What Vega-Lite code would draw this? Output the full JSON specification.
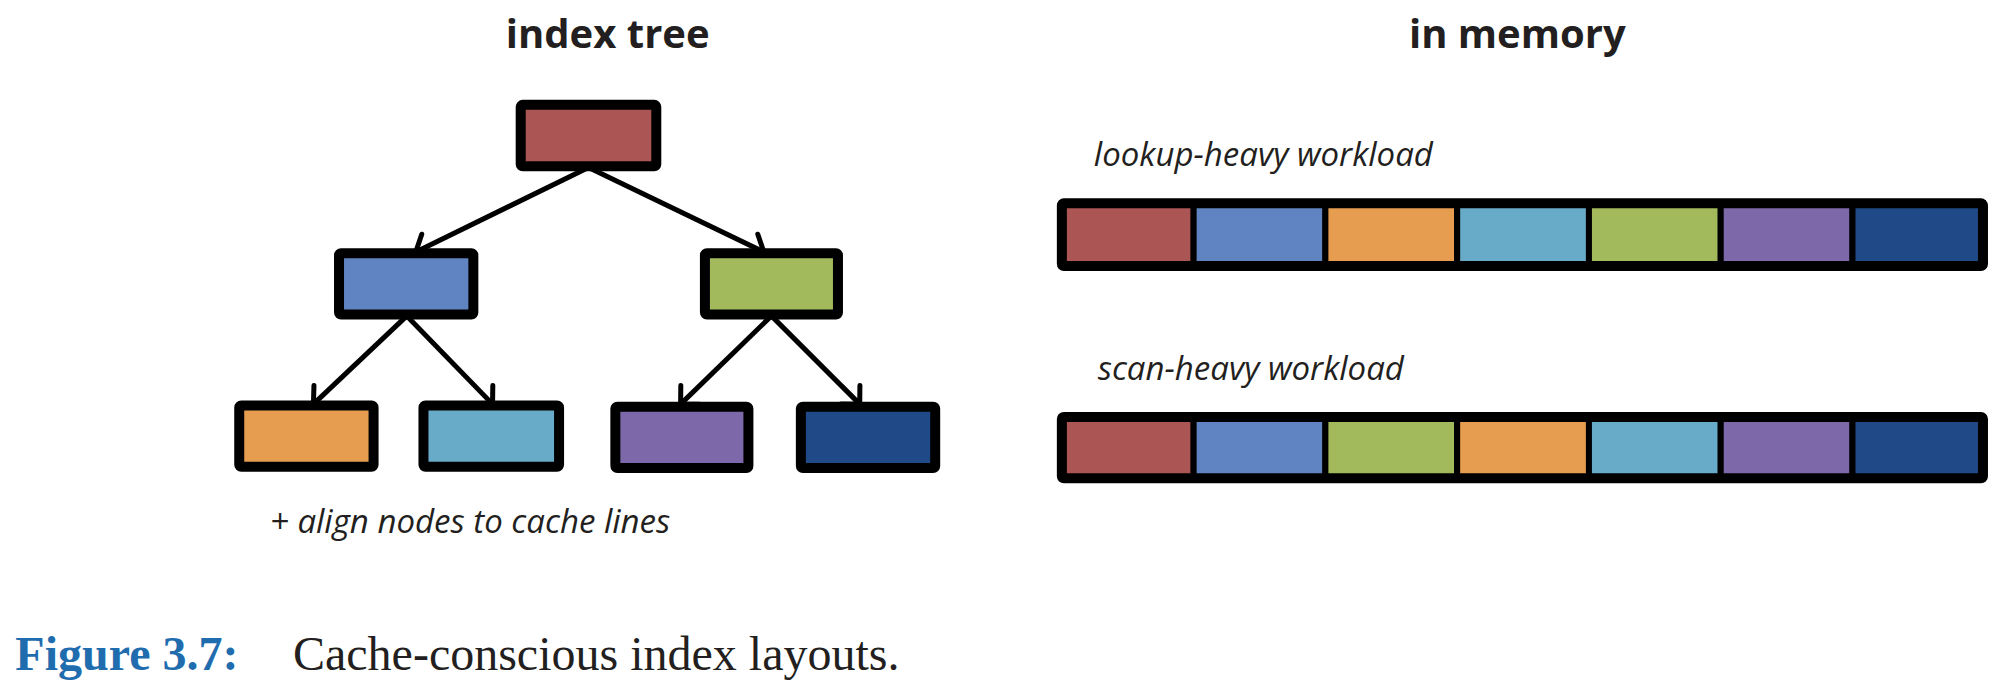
{
  "$schema": "https://vega.github.io/schema/vega-lite/v6.json",
  "width": 2006,
  "height": 697,
  "autosize": {"type": "fit", "contains": "padding"},
  "padding": 0,
  "background": "white",
  "config": {"view": {"stroke": null}},
  "datasets": {
    "tree": [
      {"node": "root", "x1": 407, "x2": 513, "y1": 82, "y2": 130},
      {"node": "L", "x1": 265, "x2": 370, "y1": 198, "y2": 246},
      {"node": "R", "x1": 551, "x2": 655, "y1": 198, "y2": 246},
      {"node": "LL", "x1": 187, "x2": 292, "y1": 317, "y2": 365},
      {"node": "LR", "x1": 331, "x2": 437, "y1": 317, "y2": 365},
      {"node": "RL", "x1": 481, "x2": 585, "y1": 318, "y2": 366},
      {"node": "RR", "x1": 626, "x2": 731, "y1": 318, "y2": 366}
    ],
    "edges": [
      {"x1": 460, "y1": 131, "x2": 325, "y2": 197, "angle": 63.6},
      {"x1": 460, "y1": 131, "x2": 597, "y2": 197, "angle": 296.4},
      {"x1": 318, "y1": 247, "x2": 245, "y2": 316, "angle": 46.6},
      {"x1": 318, "y1": 247, "x2": 385, "y2": 316, "angle": 315.8},
      {"x1": 603, "y1": 247, "x2": 532, "y2": 316, "angle": 45.6},
      {"x1": 603, "y1": 247, "x2": 672, "y2": 316, "angle": 315.6}
    ],
    "cells": [
      {"node": "root", "x1": 830, "x2": 933, "y1": 159, "y2": 208},
      {"node": "L", "x1": 933, "x2": 1036, "y1": 159, "y2": 208},
      {"node": "LL", "x1": 1036, "x2": 1139, "y1": 159, "y2": 208},
      {"node": "LR", "x1": 1139, "x2": 1242, "y1": 159, "y2": 208},
      {"node": "R", "x1": 1242, "x2": 1345, "y1": 159, "y2": 208},
      {"node": "RL", "x1": 1345, "x2": 1448, "y1": 159, "y2": 208},
      {"node": "RR", "x1": 1448, "x2": 1550, "y1": 159, "y2": 208},
      {"node": "root", "x1": 830, "x2": 933, "y1": 326, "y2": 374},
      {"node": "L", "x1": 933, "x2": 1036, "y1": 326, "y2": 374},
      {"node": "R", "x1": 1036, "x2": 1139, "y1": 326, "y2": 374},
      {"node": "LL", "x1": 1139, "x2": 1242, "y1": 326, "y2": 374},
      {"node": "LR", "x1": 1242, "x2": 1345, "y1": 326, "y2": 374},
      {"node": "RL", "x1": 1345, "x2": 1448, "y1": 326, "y2": 374},
      {"node": "RR", "x1": 1448, "x2": 1550, "y1": 326, "y2": 374}
    ],
    "rows": [
      {"x1": 830, "x2": 1550, "y1": 159, "y2": 208},
      {"x1": 830, "x2": 1550, "y1": 326, "y2": 374}
    ]
  },
  "layer": [
    {
      "data": {"name": "edges"},
      "mark": {"type": "rule", "stroke": "black", "strokeWidth": 5},
      "encoding": {
        "x": {"field": "x1", "type": "quantitative", "scale": {"domain": [0, 1568], "nice": false, "zero": false}, "axis": null},
        "y": {"field": "y1", "type": "quantitative", "scale": {"domain": [0, 545], "nice": false, "zero": false, "reverse": true}, "axis": null},
        "x2": {"field": "x2"},
        "y2": {"field": "y2"}
      }
    },
    {
      "data": {"name": "edges"},
      "mark": {"type": "point", "shape": "M -1 -1 L 0 0 L 1 -1", "filled": false, "stroke": "black", "strokeWidth": 5, "size": 700, "opacity": 1, "strokeCap": "round"},
      "encoding": {
        "x": {"field": "x2", "type": "quantitative"},
        "y": {"field": "y2", "type": "quantitative"},
        "angle": {"field": "angle", "type": "quantitative", "scale": null}
      }
    },
    {
      "data": {"name": "tree"},
      "mark": {"type": "rect", "stroke": "black", "strokeWidth": 10, "cornerRadius": 2},
      "encoding": {
        "x": {"field": "x1", "type": "quantitative"},
        "x2": {"field": "x2"},
        "y": {"field": "y1", "type": "quantitative"},
        "y2": {"field": "y2"},
        "color": {"field": "node", "type": "nominal", "legend": null,
          "scale": {"domain": ["root", "L", "LL", "LR", "R", "RL", "RR"],
                    "range": ["#AB5555", "#6083C1", "#E79D4F", "#68ABC9", "#A3BA5C", "#7D69AA", "#1F4A87"]}}
      }
    },
    {
      "data": {"name": "cells"},
      "mark": {"type": "rect", "stroke": "black", "strokeWidth": 6},
      "encoding": {
        "x": {"field": "x1", "type": "quantitative"},
        "x2": {"field": "x2"},
        "y": {"field": "y1", "type": "quantitative"},
        "y2": {"field": "y2"},
        "color": {"field": "node", "type": "nominal", "legend": null}
      }
    },
    {
      "data": {"name": "rows"},
      "mark": {"type": "rect", "fill": null, "fillOpacity": 0, "stroke": "black", "strokeWidth": 10, "cornerRadius": 2},
      "encoding": {
        "x": {"field": "x1", "type": "quantitative"},
        "x2": {"field": "x2"},
        "y": {"field": "y1", "type": "quantitative"},
        "y2": {"field": "y2"}
      }
    },
    {
      "data": {"values": [
        {"t": "index tree", "x": 475, "y": 28},
        {"t": "in memory", "x": 1186, "y": 28}
      ]},
      "mark": {"type": "text", "font": "Open Sans", "fontWeight": "bold", "fontSize": 40, "align": "center", "baseline": "middle", "color": "#231f20"},
      "encoding": {
        "x": {"field": "x", "type": "quantitative"},
        "y": {"field": "y", "type": "quantitative"},
        "text": {"field": "t"}
      }
    },
    {
      "data": {"values": [
        {"t": "lookup-heavy workload", "x": 855, "y": 122},
        {"t": "scan-heavy workload", "x": 858, "y": 289},
        {"t": "+ align nodes to cache lines", "x": 211, "y": 409}
      ]},
      "mark": {"type": "text", "font": "Open Sans", "fontStyle": "italic", "fontSize": 33, "align": "left", "baseline": "middle", "color": "#231f20"},
      "encoding": {
        "x": {"field": "x", "type": "quantitative"},
        "y": {"field": "y", "type": "quantitative"},
        "text": {"field": "t"}
      }
    },
    {
      "data": {"values": [{"t": "Figure 3.7:", "x": 12, "y": 513}]},
      "mark": {"type": "text", "font": "Liberation Serif", "fontWeight": "bold", "fontSize": 48, "align": "left", "baseline": "middle", "color": "#1F6DAE"},
      "encoding": {
        "x": {"field": "x", "type": "quantitative"},
        "y": {"field": "y", "type": "quantitative"},
        "text": {"field": "t"}
      }
    },
    {
      "data": {"values": [{"t": "Cache-conscious index layouts.", "x": 229, "y": 513}]},
      "mark": {"type": "text", "font": "Liberation Serif", "fontSize": 48, "align": "left", "baseline": "middle", "color": "#231f20"},
      "encoding": {
        "x": {"field": "x", "type": "quantitative"},
        "y": {"field": "y", "type": "quantitative"},
        "text": {"field": "t"}
      }
    }
  ]
}
